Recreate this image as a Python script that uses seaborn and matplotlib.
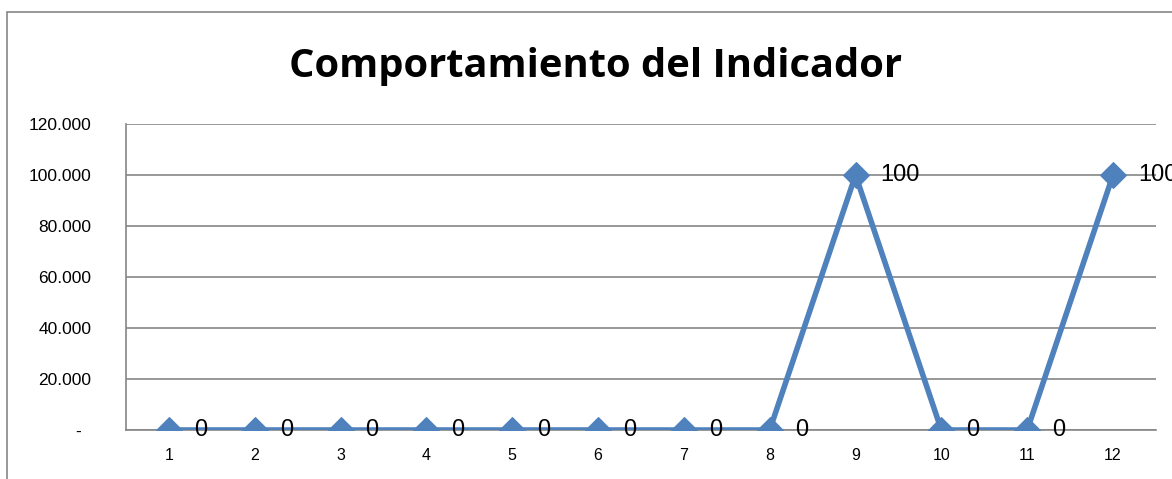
import pandas as pd
import matplotlib.pyplot as plt
import matplotlib.patches as mpatches
import seaborn as sns

# Data
months = [1, 2, 3, 4, 5, 6, 7, 8, 9, 10, 11, 12]
values = [0, 0, 0, 0, 0, 0, 0, 0, 100, 0, 0, 100]
y_ticks = [0, 20, 40, 60, 80, 100, 120]
y_tick_labels = ["-  ", "20.000", "40.000", "60.000", "80.000", "100.000", "120.000"]
title = "Comportamiento del Indicador"

sns.set_style("white")
plt.rcParams['font.family'] = ['Liberation Sans', 'DejaVu Sans']
plt.rcParams['text.color'] = 'black'
plt.rcParams['xtick.color'] = 'black'
plt.rcParams['ytick.color'] = 'black'

line_color = "#4F81BD"
grid_color = "#868686"

df = pd.DataFrame({"mes": months, "valor": values})

fig = plt.figure(figsize=(11.72, 4.79), dpi=100)
ax = fig.add_axes([0.1075, 0.1023, 0.8788, 0.6388])

sns.lineplot(data=df, x="mes", y="valor", ax=ax, color=line_color, linewidth=4,
             marker="D", markersize=13, markeredgecolor=line_color, zorder=3)

# Data labels to the right of each point
for _, row in df.iterrows():
    ax.annotate(f"{row['valor']:g}", (row['mes'], row['valor']), xytext=(18, 0),
                textcoords="offset points", ha="left", va="center",
                fontsize=17, color="black", annotation_clip=False, zorder=4)

ax.set_xlim(0.5, 12.5)
ax.set_ylim(0, 120)
ax.set_xticks(months)
ax.set_xticklabels([str(m) for m in months])
ax.set_yticks(y_ticks)
ax.set_yticklabels(y_tick_labels)
ax.tick_params(axis="x", length=0, pad=13, labelsize=11.5)
ax.tick_params(axis="y", length=0, pad=25, labelsize=12.5)
ax.set_xlabel("")
ax.set_ylabel("")

ax.grid(axis="y", color=grid_color, linewidth=1.2)
ax.set_axisbelow(True)
for side in ["top", "right"]:
    ax.spines[side].set_visible(False)
for side in ["left", "bottom"]:
    ax.spines[side].set_color(grid_color)
    ax.spines[side].set_linewidth(1.2)

fig.text(0.5085, 0.862, title, ha="center", va="center", fontsize=28.7,
         fontweight="bold", color="black", family=["Open Sans", "DejaVu Sans"])

# Chart area border (runs off the right and bottom edges)
border = mpatches.Rectangle((0.006, -0.1), 1.2, 1.075, transform=fig.transFigure,
                            fill=False, edgecolor=grid_color, linewidth=1.2)
fig.patches.append(border)

plt.savefig("out.png", dpi=100)
plt.close()
